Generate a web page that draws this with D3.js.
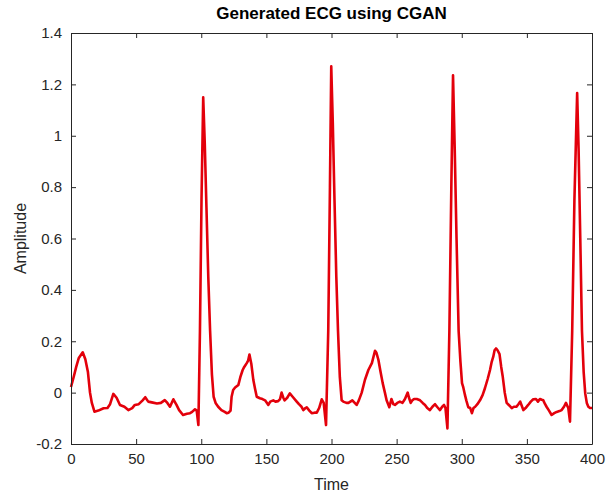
<!DOCTYPE html>
<html lang="en">
<head>
  <meta charset="UTF-8">
  <title>Generated ECG using CGAN</title>
  <script src="https://d3js.org/d3.v7.min.js"></script>
  <style>
    * { margin: 0; padding: 0; }
    body { background: #fff; }
    svg { display: block; font-family: "Liberation Sans", Arial, sans-serif; }
  </style>
</head>
<body>
  <div class="chart"></div>
  <script>
    // ECG samples (time, amplitude)
    var time = [0, 2, 4, 6, 9, 11, 13, 14.6, 16, 18, 21, 25, 28, 30, 32.5, 35, 37.6, 41, 44, 47, 49, 52, 55, 57, 59.3, 62, 66, 69, 72, 74, 76, 78.6, 81, 83, 86, 89, 91.4, 93, 95.2, 96.5, 97.8,
      99, 100.2, 101.5, 102.7, 104, 105.4, 106.8, 108.2, 109.5, 111, 113, 115.5, 118, 119.5, 121, 122.5, 123.3, 124.5, 126, 128.5, 130, 131.8, 133, 134.8, 136, 137, 138.5, 140, 141.3, 142.6, 145, 147, 149, 151.5, 153, 155.3, 157, 159, 160.5, 161.7, 163, 164, 166, 168, 170, 173.3, 175, 177, 178.4, 180, 181, 183, 184.8, 187, 188.7, 190.5, 192.5, 194, 195.8,
      197.5, 198.8, 199.8, 201, 202.3, 203.7, 205, 206.4, 207.8, 209, 211.5, 213, 216, 219.3, 221, 223.2, 225.7, 228.3, 231, 233.4, 234.5, 236, 237.5, 239.3, 241, 242.3, 243.5, 244.4, 246, 247.5, 248.7, 250.5, 252.5, 254.5, 256.4, 258.5, 259.5, 260.8, 262, 263.4, 265.5, 268, 270, 271.8, 273.5, 275.6, 277.5, 279.5, 281, 283.3, 285, 286.4, 287.5, 289,
      290.5, 292, 293.3, 294.6, 296, 297.6, 299, 300.2, 301.2, 302.5, 303.5, 305, 306.5, 307.8, 309, 310.3, 312, 314, 316, 317.8, 320, 321.7, 323, 324.2, 325.2, 326.3, 327.5, 329, 330.3, 331.4, 333, 334.5, 336.5, 338.4, 340, 342, 343.5, 344.9, 346, 347.3, 349, 351, 353, 354.9, 357, 358.5, 360, 361.5, 362.6, 364, 365.1, 367, 369, 371, 372.9, 375, 376.7, 378.5, 380, 381.8, 383.1,
      384.8, 386.5, 388.6, 389.7, 391, 392.3, 393.6, 394.8, 396, 397.2, 398.5, 400];
    var amplitude = [0.022, 0.06, 0.1, 0.135, 0.157, 0.13, 0.08, 0.0, -0.04, -0.074, -0.07, -0.061, -0.06, -0.045, -0.005, -0.02, -0.048, -0.055, -0.068, -0.06, -0.048, -0.045, -0.03, -0.018, -0.035, -0.038, -0.042, -0.04, -0.029, -0.04, -0.055, -0.026, -0.048, -0.068, -0.087, -0.082, -0.08, -0.075, -0.065, -0.07, -0.126,
      0.24, 0.75, 1.15, 0.97, 0.72, 0.45, 0.24, 0.07, -0.016, -0.04, -0.055, -0.068, -0.075, -0.08, -0.078, -0.07, -0.016, 0.01, 0.02, 0.03, 0.06, 0.088, 0.1, 0.114, 0.125, 0.148, 0.11, 0.049, 0.015, -0.016, -0.022, -0.025, -0.03, -0.048, -0.035, -0.03, -0.035, -0.033, -0.025, 0.0, -0.02, -0.03, -0.02, -0.003, -0.015, -0.035, -0.045, -0.055, -0.068, -0.06, -0.057, -0.07, -0.08, -0.078, -0.078, -0.06, -0.026, -0.04, -0.126,
      0.24, 0.8, 1.27, 1.05, 0.75, 0.45, 0.24, 0.06, -0.03, -0.035, -0.04, -0.04, -0.03, -0.048, -0.03, 0.0, 0.05, 0.088, 0.115, 0.163, 0.155, 0.128, 0.085, 0.037, 0.0, -0.03, -0.045, -0.057, -0.025, -0.045, -0.048, -0.04, -0.035, -0.04, -0.025, 0.0, -0.02, -0.04, -0.03, -0.025, -0.025, -0.03, -0.04, -0.048, -0.06, -0.068, -0.055, -0.045, -0.055, -0.068, -0.055, -0.048, -0.06, -0.139,
      0.24, 0.8, 1.235, 0.95, 0.6, 0.24, 0.12, 0.037, 0.02, -0.01, -0.03, -0.057, -0.06, -0.08, -0.06, -0.055, -0.045, -0.03, -0.01, 0.017, 0.055, 0.088, 0.12, 0.14, 0.165, 0.172, 0.165, 0.15, 0.1, 0.065, 0.0, -0.04, -0.05, -0.06, -0.055, -0.055, -0.045, -0.035, -0.05, -0.068, -0.06, -0.048, -0.035, -0.026, -0.025, -0.035, -0.025, -0.028, -0.03, -0.045, -0.055, -0.07, -0.087, -0.08, -0.075, -0.072, -0.068, -0.055, -0.04, -0.06, -0.113,
      0.24, 0.75, 1.166, 0.95, 0.6, 0.24, 0.08, -0.003, -0.04, -0.055, -0.06, -0.06];

    var xTicks = [0, 50, 100, 150, 200, 250, 300, 350, 400];
    var yTicks = [-0.2, 0, 0.2, 0.4, 0.6, 0.8, 1, 1.2, 1.4];

    var width = 615, height = 494;
    var margin = { top: 33, right: 23, bottom: 50, left: 71 };
    var innerW = width - margin.left - margin.right;
    var innerH = height - margin.top - margin.bottom;
    var axisColor = '#262626';

    var svg = d3.select('.chart')
      .append('svg')
      .attr('width', width)
      .attr('height', height);

    var g = svg.append('g')
      .attr('transform', 'translate(' + margin.left + ',' + margin.top + ')');

    var x = d3.scaleLinear().domain([0, 400]).range([0, innerW]);
    var y = d3.scaleLinear().domain([-0.2, 1.4]).range([innerH, 0]);

    var fmt = function (d) { return String(+d.toFixed(1)); };

    // the ECG trace
    var points = time.map(function (t, i) { return [t, amplitude[i]]; });
    var line = d3.line()
      .x(function (d) { return x(d[0]); })
      .y(function (d) { return y(d[1]); });

    g.append('path')
      .datum(points)
      .attr('d', line)
      .attr('fill', 'none')
      .attr('stroke', '#e3000b')
      .attr('stroke-width', 2.6)
      .attr('stroke-linejoin', 'round');

    // axes, MATLAB style: ticks inside, box on
    g.append('g')
      .attr('transform', 'translate(0,' + innerH + ')')
      .call(d3.axisBottom(x).tickValues(xTicks).tickFormat(fmt).tickSizeInner(-5).tickSizeOuter(0).tickPadding(9));
    g.append('g')
      .call(d3.axisLeft(y).tickValues(yTicks).tickFormat(fmt).tickSizeInner(-5).tickSizeOuter(0).tickPadding(9));
    g.append('g')
      .call(d3.axisTop(x).tickValues(xTicks).tickFormat('').tickSizeInner(-5).tickSizeOuter(0));
    g.append('g')
      .attr('transform', 'translate(' + innerW + ',0)')
      .call(d3.axisRight(y).tickValues(yTicks).tickFormat('').tickSizeInner(-5).tickSizeOuter(0));

    g.selectAll('.domain, .tick line').attr('stroke', axisColor);
    g.selectAll('.tick text')
      .attr('fill', axisColor)
      .style('font-size', '15px')
      .style('font-family', '"Liberation Sans", Arial, sans-serif');

    // title and labels
    svg.append('text')
      .attr('x', margin.left + innerW / 2)
      .attr('y', 19)
      .attr('text-anchor', 'middle')
      .style('font-size', '17px')
      .style('font-weight', 'bold')
      .attr('fill', '#000')
      .text('Generated ECG using CGAN');

    svg.append('text')
      .attr('x', margin.left + innerW / 2)
      .attr('y', 490)
      .attr('text-anchor', 'middle')
      .style('font-size', '16px')
      .attr('fill', axisColor)
      .text('Time');

    svg.append('text')
      .attr('transform', 'translate(26,' + (margin.top + innerH / 2) + ') rotate(-90)')
      .attr('text-anchor', 'middle')
      .style('font-size', '16px')
      .attr('fill', axisColor)
      .text('Amplitude');
  </script>
</body>
</html>
